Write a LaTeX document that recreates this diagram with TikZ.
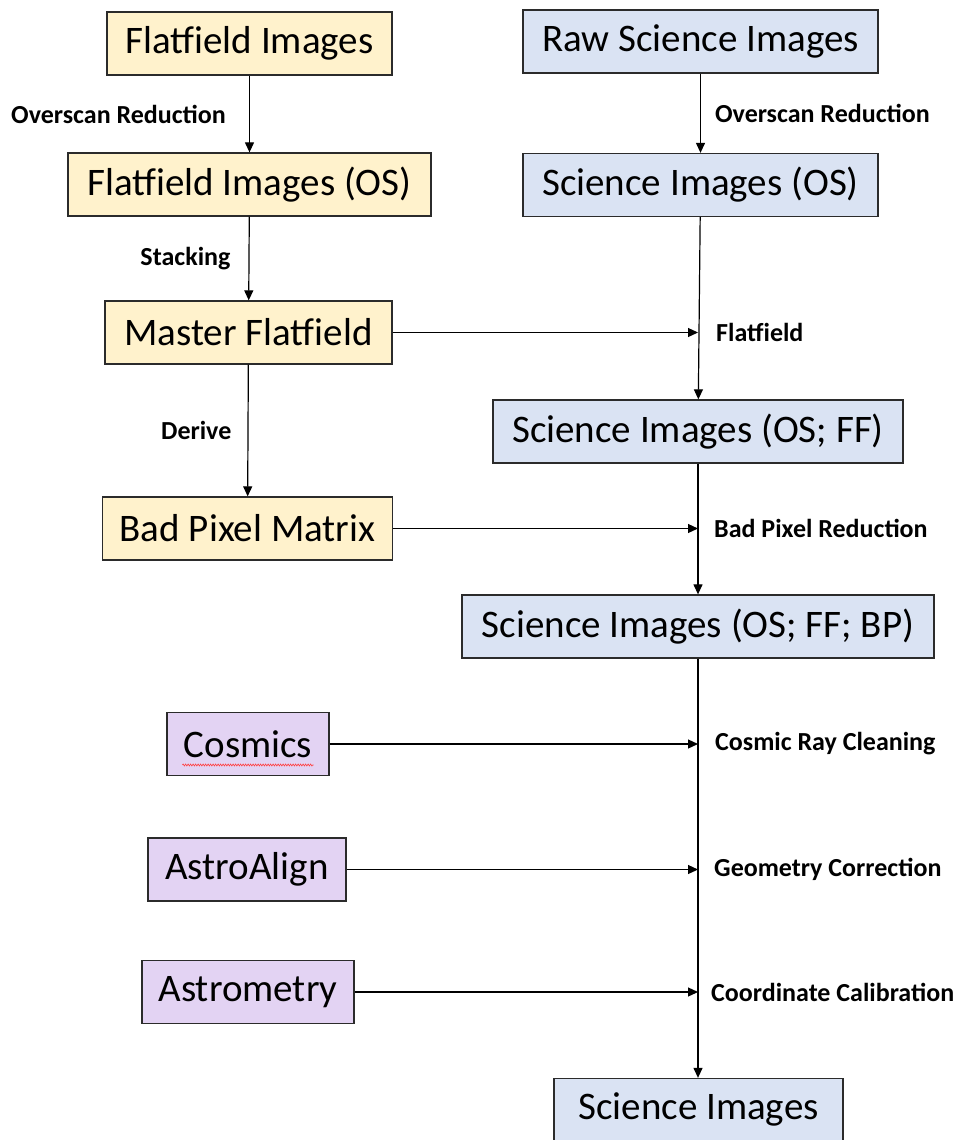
\documentclass[tikz,border=0pt]{standalone}
\usepackage{fontspec}
\setmainfont{Carlito}
\usetikzlibrary{arrows.meta,positioning,calc,decorations.pathmorphing}
\definecolor{Line}{HTML}{2B2B2B}
\definecolor{Flat}{HTML}{FFF2CC}
\definecolor{Sci}{HTML}{DAE3F3}
\definecolor{Tool}{HTML}{E3D3F3}

\begin{document}
\begin{tikzpicture}[x=1pt,y=-1pt,
 b/.style={draw=Line,line width=1.3pt,minimum height=63pt,inner sep=0pt,font=\fontsize{39}{42}\selectfont},
 a/.style={-{Triangle[length=10pt,width=9pt]},line width=1.2pt,draw=black},
 l/.style={font=\fontsize{26}{28}\selectfont\bfseries,inner sep=0pt}
]
\useasboundingbox (0,0) rectangle (959,1140);
% flatfield column
\node[b,fill=Flat,minimum width=285pt] (flat) at (249.5,43.5) {Flatfield Images};
\node[b,fill=Flat,minimum width=363pt] (flatOS) at (249.5,184.5) {Flatfield Images (OS)};
\node[b,fill=Flat,minimum width=287pt] (master) at (248.5,332.5) {Master Flatfield};
\node[b,fill=Flat,minimum width=290pt] (badpix) at (247.5,528.5) {Bad Pixel Matrix};
% tools
\node[b,fill=Tool,minimum width=162pt] (cosmics) at (248,744) {Cosmics};
\node[b,fill=Tool,minimum width=198pt] (astroalign) at (247,869.5) {AstroAlign};
\node[b,fill=Tool,minimum width=212pt] (astrometry) at (248,992) {Astrometry};
% science column
\node[b,fill=Sci,minimum width=355pt] (raw) at (700.5,41.5) {Raw Science Images};
\node[b,fill=Sci,minimum width=355pt] (sciOS) at (700.5,185) {Science Images (OS)};
\node[b,fill=Sci,minimum width=410pt] (sciFF) at (698,431.5) {Science Images (OS; FF)};
\node[b,fill=Sci,minimum width=472pt] (sciBP) at (698,626.5) {Science Images (OS; FF; BP)};
\node[b,fill=Sci,minimum width=289pt,minimum height=62pt] (sci) at (698.5,1109.5) {Science Images};
\draw[red!75,line width=0.6pt,decorate,decoration={snake,amplitude=1pt,segment length=2.5pt}]
 ([xshift=16pt,yshift=-21pt]cosmics.west) -- ([xshift=-16pt,yshift=-21pt]cosmics.east);
% points where side inputs meet the science line
\coordinate (ffIn) at (master.east -| sciFF.north);
\coordinate (bpIn) at (badpix.east -| sciFF.south);
\coordinate (crIn) at (sciBP.south |- cosmics.east);
\coordinate (gcIn) at (sciBP.south |- astroalign.east);
\coordinate (ccIn) at (sciBP.south |- astrometry.east);
\draw[a] (flat)--node[l,left=23pt]{Overscan Reduction}(flatOS);
\draw[a] (flatOS)--node[l,left=18pt]{Stacking}(master);
\draw[a] (master)--node[l,left=16pt]{Derive}(badpix);
\draw[a] (raw)--node[l,right=14pt]{Overscan Reduction}(sciOS);
\draw[a] (sciOS)--(sciFF);
\draw[a] (sciFF)--(sciBP);\node[l,right=16pt of bpIn]{Bad Pixel Reduction};
\draw[a] (sciBP.south)--(sciBP.south |- sci.north);
\draw[a] (master)--(ffIn);\node[l,right=18pt of ffIn]{Flatfield};
\draw[a] (badpix)--(bpIn);
\draw[a] (cosmics)--(crIn);\node[l,right=17pt of crIn]{Cosmic Ray Cleaning};
\draw[a] (astroalign)--(gcIn);\node[l,right=16pt of gcIn]{Geometry Correction};
\draw[a] (astrometry)--(ccIn);\node[l,right=13pt of ccIn]{Coordinate Calibration};
\end{tikzpicture}
\end{document}
